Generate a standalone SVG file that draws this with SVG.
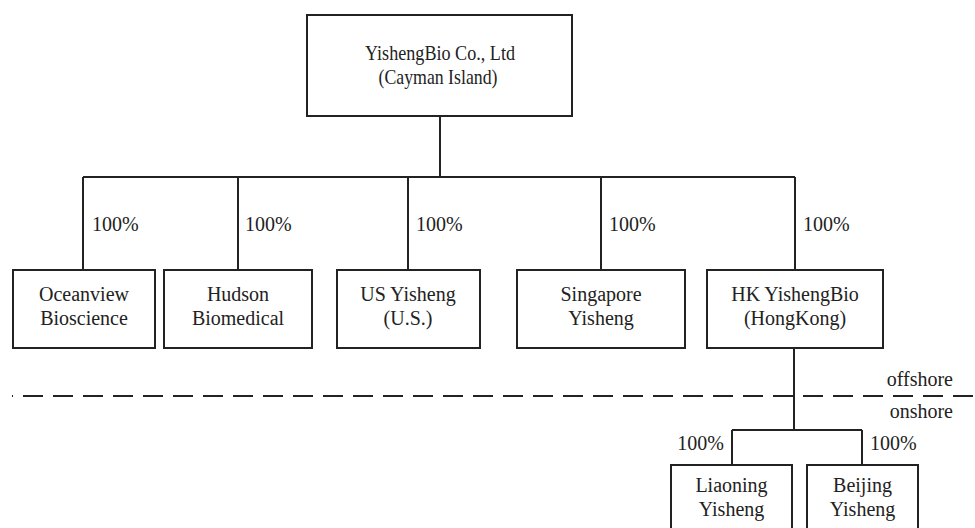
<svg xmlns="http://www.w3.org/2000/svg" width="975" height="528" viewBox="0 0 975 528">
<style>
.box{fill:#fff;stroke:#222;stroke-width:2}
.ln{fill:none;stroke:#222;stroke-width:2}
text{font-family:"Liberation Serif","Times New Roman",serif;font-size:20px;fill:#222}
.c{text-anchor:middle}
.e{text-anchor:end}
.big{font-size:21px}
</style>
<rect width="975" height="528" fill="#fff"/>
<g id="connectors">
<path class="ln" d="M440,116V177M83,177H795M83,177V270M238,177V270M408,177V270M601,177V270M795,177V270"/>
<path class="ln" d="M794,348V430M732,430H862M732,430V465M862,430V465"/>
<line x1="12" y1="396" x2="975" y2="396" stroke="#222" stroke-width="2.2" stroke-dasharray="20 10" stroke-dashoffset="19"/>
<text x="92" y="231">100%</text>
<text x="245" y="231">100%</text>
<text x="416" y="231">100%</text>
<text x="609" y="231">100%</text>
<text x="803" y="231">100%</text>
<text x="724" y="450" class="e">100%</text>
<text x="870" y="450">100%</text>
<text x="953" y="386" class="e">offshore</text>
<text x="953" y="418" class="e">onshore</text>
</g>
<g id="root">
<rect class="box" x="307" y="15" width="265" height="101"/>
<text x="440" y="60" class="c big" textLength="150" lengthAdjust="spacingAndGlyphs">YishengBio Co., Ltd</text>
<text x="438" y="84" class="c big" textLength="119" lengthAdjust="spacingAndGlyphs">(Cayman Island)</text>
</g>
<g id="oceanview">
<rect class="box" x="13" y="270" width="142" height="78"/>
<text x="84" y="301" class="c">Oceanview</text>
<text x="84" y="325" class="c">Bioscience</text>
</g>
<g id="hudson">
<rect class="box" x="164" y="270" width="148" height="78"/>
<text x="238" y="301" class="c">Hudson</text>
<text x="238" y="325" class="c">Biomedical</text>
</g>
<g id="us">
<rect class="box" x="337" y="270" width="143" height="78"/>
<text x="408" y="301" class="c">US Yisheng</text>
<text x="408" y="325" class="c">(U.S.)</text>
</g>
<g id="singapore">
<rect class="box" x="517" y="270" width="168" height="78"/>
<text x="601" y="301" class="c">Singapore</text>
<text x="601" y="325" class="c">Yisheng</text>
</g>
<g id="hk">
<rect class="box" x="707" y="270" width="176" height="78"/>
<text x="795" y="301" class="c">HK YishengBio</text>
<text x="795" y="325" class="c">(HongKong)</text>
</g>
<g id="liaoning">
<rect class="box" x="671" y="465" width="121" height="80"/>
<text x="731.5" y="492" class="c">Liaoning</text>
<text x="731.5" y="516" class="c">Yisheng</text>
</g>
<g id="beijing">
<rect class="box" x="807" y="465" width="111" height="80"/>
<text x="862.5" y="492" class="c">Beijing</text>
<text x="862.5" y="516" class="c">Yisheng</text>
</g>
</svg>
